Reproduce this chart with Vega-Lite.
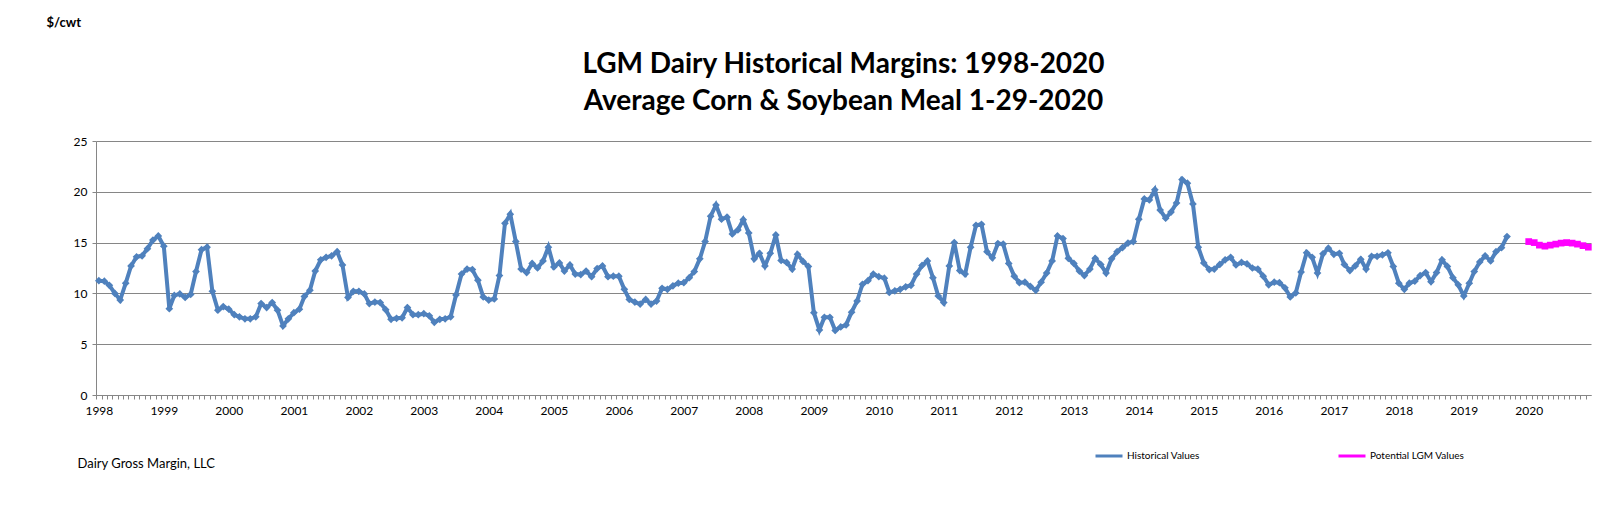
{
  "$schema": "https://vega.github.io/schema/vega-lite/v6.json",
  "autosize": "none",
  "padding": {"left": 96, "top": 141, "right": 25, "bottom": 116},
  "width": 1495,
  "height": 254,
  "background": "white",
  "config": {
    "font": "Lato",
    "view": {"stroke": null},
    "axis": {"labelColor": "black", "labelFontSize": 12, "domainColor": "#868686", "tickColor": "#868686", "gridColor": "#868686", "gridOpacity": 1, "labelFont": "Lato", "titleFont": "Lato"}
  },
  "title": {
    "text": ["LGM Dairy Historical Margins: 1998-2020", "Average Corn & Soybean Meal 1-29-2020"],
    "fontSize": 28,
    "fontWeight": "bold",
    "font": "Lato",
    "color": "black",
    "lineHeight": 37,
    "anchor": "middle",
    "frame": "group",
    "offset": 0,
    "dy": 100
  },
  "data": {"values": [
    {"date":"1998-01-01","margin":11.25,"series":"Historical Values"},
    {"date":"1998-02-01","margin":11.2,"series":"Historical Values"},
    {"date":"1998-03-01","margin":10.8,"series":"Historical Values"},
    {"date":"1998-04-01","margin":10.0,"series":"Historical Values"},
    {"date":"1998-05-01","margin":9.35,"series":"Historical Values"},
    {"date":"1998-06-01","margin":11.0,"series":"Historical Values"},
    {"date":"1998-07-01","margin":12.7,"series":"Historical Values"},
    {"date":"1998-08-01","margin":13.6,"series":"Historical Values"},
    {"date":"1998-09-01","margin":13.7,"series":"Historical Values"},
    {"date":"1998-10-01","margin":14.4,"series":"Historical Values"},
    {"date":"1998-11-01","margin":15.25,"series":"Historical Values"},
    {"date":"1998-12-01","margin":15.65,"series":"Historical Values"},
    {"date":"1999-01-01","margin":14.65,"series":"Historical Values"},
    {"date":"1999-02-01","margin":8.5,"series":"Historical Values"},
    {"date":"1999-03-01","margin":9.8,"series":"Historical Values"},
    {"date":"1999-04-01","margin":9.95,"series":"Historical Values"},
    {"date":"1999-05-01","margin":9.6,"series":"Historical Values"},
    {"date":"1999-06-01","margin":9.9,"series":"Historical Values"},
    {"date":"1999-07-01","margin":12.15,"series":"Historical Values"},
    {"date":"1999-08-01","margin":14.3,"series":"Historical Values"},
    {"date":"1999-09-01","margin":14.55,"series":"Historical Values"},
    {"date":"1999-10-01","margin":10.2,"series":"Historical Values"},
    {"date":"1999-11-01","margin":8.35,"series":"Historical Values"},
    {"date":"1999-12-01","margin":8.7,"series":"Historical Values"},
    {"date":"2000-01-01","margin":8.45,"series":"Historical Values"},
    {"date":"2000-02-01","margin":7.9,"series":"Historical Values"},
    {"date":"2000-03-01","margin":7.7,"series":"Historical Values"},
    {"date":"2000-04-01","margin":7.5,"series":"Historical Values"},
    {"date":"2000-05-01","margin":7.5,"series":"Historical Values"},
    {"date":"2000-06-01","margin":7.7,"series":"Historical Values"},
    {"date":"2000-07-01","margin":9.0,"series":"Historical Values"},
    {"date":"2000-08-01","margin":8.6,"series":"Historical Values"},
    {"date":"2000-09-01","margin":9.1,"series":"Historical Values"},
    {"date":"2000-10-01","margin":8.35,"series":"Historical Values"},
    {"date":"2000-11-01","margin":6.8,"series":"Historical Values"},
    {"date":"2000-12-01","margin":7.5,"series":"Historical Values"},
    {"date":"2001-01-01","margin":8.1,"series":"Historical Values"},
    {"date":"2001-02-01","margin":8.45,"series":"Historical Values"},
    {"date":"2001-03-01","margin":9.7,"series":"Historical Values"},
    {"date":"2001-04-01","margin":10.3,"series":"Historical Values"},
    {"date":"2001-05-01","margin":12.2,"series":"Historical Values"},
    {"date":"2001-06-01","margin":13.3,"series":"Historical Values"},
    {"date":"2001-07-01","margin":13.55,"series":"Historical Values"},
    {"date":"2001-08-01","margin":13.7,"series":"Historical Values"},
    {"date":"2001-09-01","margin":14.1,"series":"Historical Values"},
    {"date":"2001-10-01","margin":12.8,"series":"Historical Values"},
    {"date":"2001-11-01","margin":9.6,"series":"Historical Values"},
    {"date":"2001-12-01","margin":10.2,"series":"Historical Values"},
    {"date":"2002-01-01","margin":10.2,"series":"Historical Values"},
    {"date":"2002-02-01","margin":9.95,"series":"Historical Values"},
    {"date":"2002-03-01","margin":9.0,"series":"Historical Values"},
    {"date":"2002-04-01","margin":9.15,"series":"Historical Values"},
    {"date":"2002-05-01","margin":9.1,"series":"Historical Values"},
    {"date":"2002-06-01","margin":8.4,"series":"Historical Values"},
    {"date":"2002-07-01","margin":7.45,"series":"Historical Values"},
    {"date":"2002-08-01","margin":7.55,"series":"Historical Values"},
    {"date":"2002-09-01","margin":7.6,"series":"Historical Values"},
    {"date":"2002-10-01","margin":8.6,"series":"Historical Values"},
    {"date":"2002-11-01","margin":7.9,"series":"Historical Values"},
    {"date":"2002-12-01","margin":7.9,"series":"Historical Values"},
    {"date":"2003-01-01","margin":8.0,"series":"Historical Values"},
    {"date":"2003-02-01","margin":7.8,"series":"Historical Values"},
    {"date":"2003-03-01","margin":7.15,"series":"Historical Values"},
    {"date":"2003-04-01","margin":7.45,"series":"Historical Values"},
    {"date":"2003-05-01","margin":7.5,"series":"Historical Values"},
    {"date":"2003-06-01","margin":7.7,"series":"Historical Values"},
    {"date":"2003-07-01","margin":9.85,"series":"Historical Values"},
    {"date":"2003-08-01","margin":11.9,"series":"Historical Values"},
    {"date":"2003-09-01","margin":12.4,"series":"Historical Values"},
    {"date":"2003-10-01","margin":12.35,"series":"Historical Values"},
    {"date":"2003-11-01","margin":11.3,"series":"Historical Values"},
    {"date":"2003-12-01","margin":9.65,"series":"Historical Values"},
    {"date":"2004-01-01","margin":9.35,"series":"Historical Values"},
    {"date":"2004-02-01","margin":9.45,"series":"Historical Values"},
    {"date":"2004-03-01","margin":11.75,"series":"Historical Values"},
    {"date":"2004-04-01","margin":16.9,"series":"Historical Values"},
    {"date":"2004-05-01","margin":17.8,"series":"Historical Values"},
    {"date":"2004-06-01","margin":15.1,"series":"Historical Values"},
    {"date":"2004-07-01","margin":12.4,"series":"Historical Values"},
    {"date":"2004-08-01","margin":12.05,"series":"Historical Values"},
    {"date":"2004-09-01","margin":12.95,"series":"Historical Values"},
    {"date":"2004-10-01","margin":12.5,"series":"Historical Values"},
    {"date":"2004-11-01","margin":13.2,"series":"Historical Values"},
    {"date":"2004-12-01","margin":14.55,"series":"Historical Values"},
    {"date":"2005-01-01","margin":12.6,"series":"Historical Values"},
    {"date":"2005-02-01","margin":13.0,"series":"Historical Values"},
    {"date":"2005-03-01","margin":12.2,"series":"Historical Values"},
    {"date":"2005-04-01","margin":12.8,"series":"Historical Values"},
    {"date":"2005-05-01","margin":11.9,"series":"Historical Values"},
    {"date":"2005-06-01","margin":11.85,"series":"Historical Values"},
    {"date":"2005-07-01","margin":12.2,"series":"Historical Values"},
    {"date":"2005-08-01","margin":11.65,"series":"Historical Values"},
    {"date":"2005-09-01","margin":12.45,"series":"Historical Values"},
    {"date":"2005-10-01","margin":12.7,"series":"Historical Values"},
    {"date":"2005-11-01","margin":11.65,"series":"Historical Values"},
    {"date":"2005-12-01","margin":11.7,"series":"Historical Values"},
    {"date":"2006-01-01","margin":11.7,"series":"Historical Values"},
    {"date":"2006-02-01","margin":10.4,"series":"Historical Values"},
    {"date":"2006-03-01","margin":9.4,"series":"Historical Values"},
    {"date":"2006-04-01","margin":9.15,"series":"Historical Values"},
    {"date":"2006-05-01","margin":8.95,"series":"Historical Values"},
    {"date":"2006-06-01","margin":9.4,"series":"Historical Values"},
    {"date":"2006-07-01","margin":8.95,"series":"Historical Values"},
    {"date":"2006-08-01","margin":9.25,"series":"Historical Values"},
    {"date":"2006-09-01","margin":10.5,"series":"Historical Values"},
    {"date":"2006-10-01","margin":10.4,"series":"Historical Values"},
    {"date":"2006-11-01","margin":10.75,"series":"Historical Values"},
    {"date":"2006-12-01","margin":11.0,"series":"Historical Values"},
    {"date":"2007-01-01","margin":11.05,"series":"Historical Values"},
    {"date":"2007-02-01","margin":11.55,"series":"Historical Values"},
    {"date":"2007-03-01","margin":12.15,"series":"Historical Values"},
    {"date":"2007-04-01","margin":13.4,"series":"Historical Values"},
    {"date":"2007-05-01","margin":15.1,"series":"Historical Values"},
    {"date":"2007-06-01","margin":17.6,"series":"Historical Values"},
    {"date":"2007-07-01","margin":18.7,"series":"Historical Values"},
    {"date":"2007-08-01","margin":17.3,"series":"Historical Values"},
    {"date":"2007-09-01","margin":17.5,"series":"Historical Values"},
    {"date":"2007-10-01","margin":15.85,"series":"Historical Values"},
    {"date":"2007-11-01","margin":16.25,"series":"Historical Values"},
    {"date":"2007-12-01","margin":17.25,"series":"Historical Values"},
    {"date":"2008-01-01","margin":15.95,"series":"Historical Values"},
    {"date":"2008-02-01","margin":13.4,"series":"Historical Values"},
    {"date":"2008-03-01","margin":13.95,"series":"Historical Values"},
    {"date":"2008-04-01","margin":12.7,"series":"Historical Values"},
    {"date":"2008-05-01","margin":13.95,"series":"Historical Values"},
    {"date":"2008-06-01","margin":15.75,"series":"Historical Values"},
    {"date":"2008-07-01","margin":13.25,"series":"Historical Values"},
    {"date":"2008-08-01","margin":13.05,"series":"Historical Values"},
    {"date":"2008-09-01","margin":12.4,"series":"Historical Values"},
    {"date":"2008-10-01","margin":13.85,"series":"Historical Values"},
    {"date":"2008-11-01","margin":13.15,"series":"Historical Values"},
    {"date":"2008-12-01","margin":12.65,"series":"Historical Values"},
    {"date":"2009-01-01","margin":8.1,"series":"Historical Values"},
    {"date":"2009-02-01","margin":6.4,"series":"Historical Values"},
    {"date":"2009-03-01","margin":7.65,"series":"Historical Values"},
    {"date":"2009-04-01","margin":7.65,"series":"Historical Values"},
    {"date":"2009-05-01","margin":6.35,"series":"Historical Values"},
    {"date":"2009-06-01","margin":6.7,"series":"Historical Values"},
    {"date":"2009-07-01","margin":6.9,"series":"Historical Values"},
    {"date":"2009-08-01","margin":8.15,"series":"Historical Values"},
    {"date":"2009-09-01","margin":9.25,"series":"Historical Values"},
    {"date":"2009-10-01","margin":10.9,"series":"Historical Values"},
    {"date":"2009-11-01","margin":11.25,"series":"Historical Values"},
    {"date":"2009-12-01","margin":11.9,"series":"Historical Values"},
    {"date":"2010-01-01","margin":11.65,"series":"Historical Values"},
    {"date":"2010-02-01","margin":11.5,"series":"Historical Values"},
    {"date":"2010-03-01","margin":10.1,"series":"Historical Values"},
    {"date":"2010-04-01","margin":10.25,"series":"Historical Values"},
    {"date":"2010-05-01","margin":10.4,"series":"Historical Values"},
    {"date":"2010-06-01","margin":10.65,"series":"Historical Values"},
    {"date":"2010-07-01","margin":10.8,"series":"Historical Values"},
    {"date":"2010-08-01","margin":11.9,"series":"Historical Values"},
    {"date":"2010-09-01","margin":12.75,"series":"Historical Values"},
    {"date":"2010-10-01","margin":13.2,"series":"Historical Values"},
    {"date":"2010-11-01","margin":11.55,"series":"Historical Values"},
    {"date":"2010-12-01","margin":9.75,"series":"Historical Values"},
    {"date":"2011-01-01","margin":9.1,"series":"Historical Values"},
    {"date":"2011-02-01","margin":12.7,"series":"Historical Values"},
    {"date":"2011-03-01","margin":15.0,"series":"Historical Values"},
    {"date":"2011-04-01","margin":12.25,"series":"Historical Values"},
    {"date":"2011-05-01","margin":11.9,"series":"Historical Values"},
    {"date":"2011-06-01","margin":14.55,"series":"Historical Values"},
    {"date":"2011-07-01","margin":16.7,"series":"Historical Values"},
    {"date":"2011-08-01","margin":16.8,"series":"Historical Values"},
    {"date":"2011-09-01","margin":14.1,"series":"Historical Values"},
    {"date":"2011-10-01","margin":13.5,"series":"Historical Values"},
    {"date":"2011-11-01","margin":14.9,"series":"Historical Values"},
    {"date":"2011-12-01","margin":14.85,"series":"Historical Values"},
    {"date":"2012-01-01","margin":12.95,"series":"Historical Values"},
    {"date":"2012-02-01","margin":11.7,"series":"Historical Values"},
    {"date":"2012-03-01","margin":11.05,"series":"Historical Values"},
    {"date":"2012-04-01","margin":11.1,"series":"Historical Values"},
    {"date":"2012-05-01","margin":10.7,"series":"Historical Values"},
    {"date":"2012-06-01","margin":10.3,"series":"Historical Values"},
    {"date":"2012-07-01","margin":11.1,"series":"Historical Values"},
    {"date":"2012-08-01","margin":12.0,"series":"Historical Values"},
    {"date":"2012-09-01","margin":13.2,"series":"Historical Values"},
    {"date":"2012-10-01","margin":15.65,"series":"Historical Values"},
    {"date":"2012-11-01","margin":15.4,"series":"Historical Values"},
    {"date":"2012-12-01","margin":13.45,"series":"Historical Values"},
    {"date":"2013-01-01","margin":12.95,"series":"Historical Values"},
    {"date":"2013-02-01","margin":12.2,"series":"Historical Values"},
    {"date":"2013-03-01","margin":11.75,"series":"Historical Values"},
    {"date":"2013-04-01","margin":12.4,"series":"Historical Values"},
    {"date":"2013-05-01","margin":13.45,"series":"Historical Values"},
    {"date":"2013-06-01","margin":12.85,"series":"Historical Values"},
    {"date":"2013-07-01","margin":12.0,"series":"Historical Values"},
    {"date":"2013-08-01","margin":13.4,"series":"Historical Values"},
    {"date":"2013-09-01","margin":14.1,"series":"Historical Values"},
    {"date":"2013-10-01","margin":14.5,"series":"Historical Values"},
    {"date":"2013-11-01","margin":14.95,"series":"Historical Values"},
    {"date":"2013-12-01","margin":15.1,"series":"Historical Values"},
    {"date":"2014-01-01","margin":17.3,"series":"Historical Values"},
    {"date":"2014-02-01","margin":19.3,"series":"Historical Values"},
    {"date":"2014-03-01","margin":19.2,"series":"Historical Values"},
    {"date":"2014-04-01","margin":20.2,"series":"Historical Values"},
    {"date":"2014-05-01","margin":18.2,"series":"Historical Values"},
    {"date":"2014-06-01","margin":17.4,"series":"Historical Values"},
    {"date":"2014-07-01","margin":18.0,"series":"Historical Values"},
    {"date":"2014-08-01","margin":18.9,"series":"Historical Values"},
    {"date":"2014-09-01","margin":21.2,"series":"Historical Values"},
    {"date":"2014-10-01","margin":20.85,"series":"Historical Values"},
    {"date":"2014-11-01","margin":18.8,"series":"Historical Values"},
    {"date":"2014-12-01","margin":14.55,"series":"Historical Values"},
    {"date":"2015-01-01","margin":13.0,"series":"Historical Values"},
    {"date":"2015-02-01","margin":12.35,"series":"Historical Values"},
    {"date":"2015-03-01","margin":12.4,"series":"Historical Values"},
    {"date":"2015-04-01","margin":12.85,"series":"Historical Values"},
    {"date":"2015-05-01","margin":13.3,"series":"Historical Values"},
    {"date":"2015-06-01","margin":13.55,"series":"Historical Values"},
    {"date":"2015-07-01","margin":12.8,"series":"Historical Values"},
    {"date":"2015-08-01","margin":13.05,"series":"Historical Values"},
    {"date":"2015-09-01","margin":12.9,"series":"Historical Values"},
    {"date":"2015-10-01","margin":12.5,"series":"Historical Values"},
    {"date":"2015-11-01","margin":12.4,"series":"Historical Values"},
    {"date":"2015-12-01","margin":11.7,"series":"Historical Values"},
    {"date":"2016-01-01","margin":10.85,"series":"Historical Values"},
    {"date":"2016-02-01","margin":11.1,"series":"Historical Values"},
    {"date":"2016-03-01","margin":11.05,"series":"Historical Values"},
    {"date":"2016-04-01","margin":10.55,"series":"Historical Values"},
    {"date":"2016-05-01","margin":9.65,"series":"Historical Values"},
    {"date":"2016-06-01","margin":10.05,"series":"Historical Values"},
    {"date":"2016-07-01","margin":12.1,"series":"Historical Values"},
    {"date":"2016-08-01","margin":14.0,"series":"Historical Values"},
    {"date":"2016-09-01","margin":13.55,"series":"Historical Values"},
    {"date":"2016-10-01","margin":12.0,"series":"Historical Values"},
    {"date":"2016-11-01","margin":13.9,"series":"Historical Values"},
    {"date":"2016-12-01","margin":14.45,"series":"Historical Values"},
    {"date":"2017-01-01","margin":13.85,"series":"Historical Values"},
    {"date":"2017-02-01","margin":13.95,"series":"Historical Values"},
    {"date":"2017-03-01","margin":12.85,"series":"Historical Values"},
    {"date":"2017-04-01","margin":12.25,"series":"Historical Values"},
    {"date":"2017-05-01","margin":12.7,"series":"Historical Values"},
    {"date":"2017-06-01","margin":13.35,"series":"Historical Values"},
    {"date":"2017-07-01","margin":12.4,"series":"Historical Values"},
    {"date":"2017-08-01","margin":13.65,"series":"Historical Values"},
    {"date":"2017-09-01","margin":13.65,"series":"Historical Values"},
    {"date":"2017-10-01","margin":13.8,"series":"Historical Values"},
    {"date":"2017-11-01","margin":14.0,"series":"Historical Values"},
    {"date":"2017-12-01","margin":12.65,"series":"Historical Values"},
    {"date":"2018-01-01","margin":11.0,"series":"Historical Values"},
    {"date":"2018-02-01","margin":10.4,"series":"Historical Values"},
    {"date":"2018-03-01","margin":11.0,"series":"Historical Values"},
    {"date":"2018-04-01","margin":11.2,"series":"Historical Values"},
    {"date":"2018-05-01","margin":11.75,"series":"Historical Values"},
    {"date":"2018-06-01","margin":12.05,"series":"Historical Values"},
    {"date":"2018-07-01","margin":11.15,"series":"Historical Values"},
    {"date":"2018-08-01","margin":12.05,"series":"Historical Values"},
    {"date":"2018-09-01","margin":13.3,"series":"Historical Values"},
    {"date":"2018-10-01","margin":12.65,"series":"Historical Values"},
    {"date":"2018-11-01","margin":11.55,"series":"Historical Values"},
    {"date":"2018-12-01","margin":10.85,"series":"Historical Values"},
    {"date":"2019-01-01","margin":9.75,"series":"Historical Values"},
    {"date":"2019-02-01","margin":11.0,"series":"Historical Values"},
    {"date":"2019-03-01","margin":12.15,"series":"Historical Values"},
    {"date":"2019-04-01","margin":13.1,"series":"Historical Values"},
    {"date":"2019-05-01","margin":13.7,"series":"Historical Values"},
    {"date":"2019-06-01","margin":13.2,"series":"Historical Values"},
    {"date":"2019-07-01","margin":14.1,"series":"Historical Values"},
    {"date":"2019-08-01","margin":14.5,"series":"Historical Values"},
    {"date":"2019-09-01","margin":15.6,"series":"Historical Values"},
    {"date":"2020-01-01","margin":15.1,"series":"Potential LGM Values"},
    {"date":"2020-02-01","margin":15.0,"series":"Potential LGM Values"},
    {"date":"2020-03-01","margin":14.75,"series":"Potential LGM Values"},
    {"date":"2020-04-01","margin":14.65,"series":"Potential LGM Values"},
    {"date":"2020-05-01","margin":14.75,"series":"Potential LGM Values"},
    {"date":"2020-06-01","margin":14.85,"series":"Potential LGM Values"},
    {"date":"2020-07-01","margin":14.95,"series":"Potential LGM Values"},
    {"date":"2020-08-01","margin":15.0,"series":"Potential LGM Values"},
    {"date":"2020-09-01","margin":14.95,"series":"Potential LGM Values"},
    {"date":"2020-10-01","margin":14.85,"series":"Potential LGM Values"},
    {"date":"2020-11-01","margin":14.7,"series":"Potential LGM Values"},
    {"date":"2020-12-01","margin":14.55,"series":"Potential LGM Values"}
  ]},
  "encoding": {
    "x": {
      "field": "date",
      "type": "temporal",
      "scale": {"type": "utc", "domain": [{"year": 1997, "month": 12, "date": 16, "utc": true}, {"year": 2020, "month": 12, "date": 16, "utc": true}]},
      "axis": {
        "title": "Dairy Gross Margin, LLC",
        "titleFontSize": 13,
        "titleFontWeight": "normal",
        "titleColor": "black",
        "titleAnchor": "start",
        "titleAlign": "left",
        "titleBaseline": "alphabetic",
        "titleX": -19,
        "titleY": 72,
        "tickCount": {"interval": "month", "step": 1},
        "labelExpr": "utcFormat(datum.value, '%m') == '01' ? utcFormat(datum.value, '%Y') : ''",
        "labelOverlap": false,
        "labelBound": false,
        "labelFlush": false,
        "tickSize": 4,
        "tickOffset": -2.7,
        "labelOffset": 2.7,
        "labelPadding": 6,
        "grid": false,
        "domainColor": "#868686"
      }
    },
    "y": {
      "field": "margin",
      "type": "quantitative",
      "scale": {"domain": [0, 25], "nice": false},
      "axis": {
        "title": "$/cwt",
        "titleFontSize": 13,
        "titleFontWeight": "bold",
        "titleColor": "black",
        "titleAngle": 0,
        "titleAlign": "left",
        "titleBaseline": "alphabetic",
        "titleX": -50,
        "titleY": -115,
        "values": [0, 5, 10, 15, 20, 25],
        "tickSize": 4,
        "labelPadding": 5,
        "grid": true,
        "gridColor": "#868686"
      }
    }
  },
  "layer": [
    {
      "mark": {"type": "line", "strokeWidth": 4, "interpolate": "linear"},
      "encoding": {
        "color": {
          "field": "series",
          "type": "nominal",
          "scale": {"domain": ["Historical Values", "Potential LGM Values"], "range": ["#4F81BD", "#FF00FF"]},
          "legend": {
            "title": null,
            "orient": "none",
            "direction": "horizontal",
            "legendX": 998,
            "legendY": 300,
            "symbolType": "stroke",
            "symbolSize": 729,
            "symbolStrokeWidth": 3,
            "labelFontSize": 10,
            "labelColor": "black",
            "labelOffset": 3,
            "columnPadding": 132
          }
        }
      }
    },
    {
      "transform": [{"filter": "datum.series === 'Historical Values'"}],
      "mark": {"type": "point", "filled": true, "opacity": 1, "size": 60, "shape": "diamond"},
      "encoding": {
        "color": {"field": "series", "type": "nominal", "legend": null}
      }
    },
    {
      "transform": [{"filter": "datum.series === 'Potential LGM Values'"}],
      "mark": {"type": "point", "filled": true, "opacity": 1, "size": 45, "shape": "square"},
      "encoding": {
        "color": {"field": "series", "type": "nominal", "legend": null}
      }
    }
  ]
}
